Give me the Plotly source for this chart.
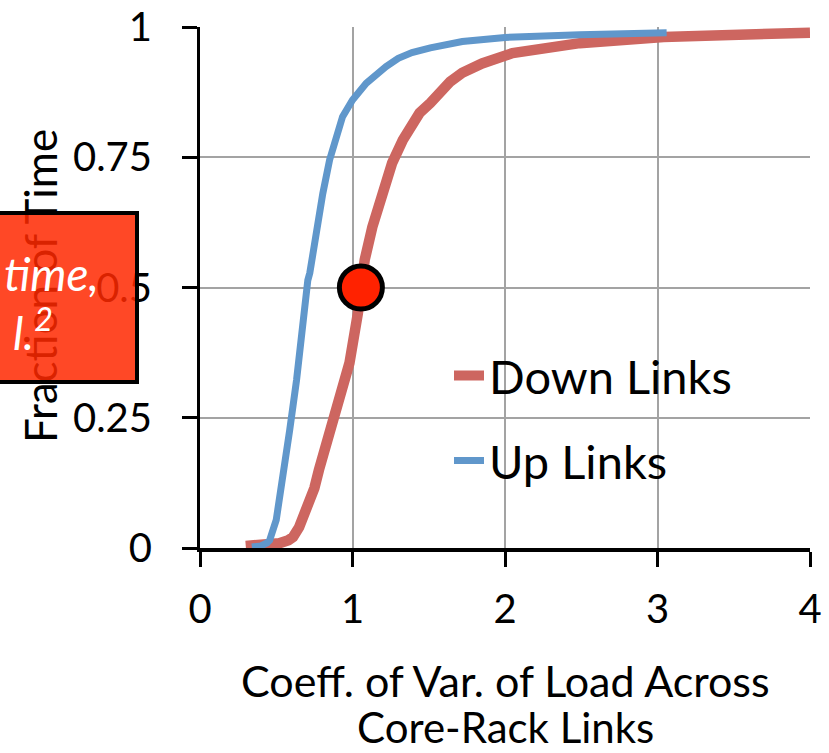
import plotly.graph_objects as go

# CDF of the coefficient of variation of load across core-rack links
down_x = [0.30, 0.45, 0.52, 0.58, 0.61, 0.65, 0.70, 0.75, 0.78, 0.82, 0.85, 0.915,
          0.98, 1.035, 1.055, 1.08, 1.13, 1.20, 1.26, 1.33, 1.44, 1.51, 1.57, 1.64,
          1.72, 1.85, 2.05, 2.25, 2.49, 3.04, 3.5, 4.0]
down_y = [0.004, 0.007, 0.009, 0.015, 0.021, 0.04, 0.073, 0.115, 0.15, 0.19, 0.226, 0.29,
          0.355, 0.45, 0.50, 0.553, 0.616, 0.681, 0.739, 0.783, 0.835, 0.854, 0.876, 0.895,
          0.912, 0.93, 0.95, 0.96, 0.969, 0.981, 0.985, 0.989]

up_x = [0.34, 0.40, 0.44, 0.457, 0.50, 0.544, 0.588, 0.633, 0.675, 0.707, 0.72, 0.763,
        0.805, 0.85, 0.893, 0.935, 1.0, 1.09, 1.22, 1.30, 1.39, 1.51, 1.72, 2.0, 2.49, 3.06]
up_y = [0.002, 0.004, 0.010, 0.015, 0.054, 0.13, 0.226, 0.322, 0.45, 0.514, 0.528, 0.617,
        0.68, 0.745, 0.789, 0.828, 0.86, 0.892, 0.924, 0.940, 0.951, 0.960, 0.972, 0.980, 0.985, 0.989]

# highlighted median point on the down-link curve
point_x = [1.055]
point_y = [0.5]

x_ticks = [0, 1, 2, 3, 4]
y_ticks = [0, 0.25, 0.5, 0.75, 1]
y_tick_text = ["0", "0.25", "0.5", "0.75", "1"]

FONT = "Lato"
W, H = 829, 753
ML, MR, MT, MB = 200, 19, 27, 205
PW = W - ML - MR
PH = H - MT - MB


def px_x(px):
    return (px - ML) / PW


def px_y(py):
    return (H - MB - py) / PH


fig = go.Figure()
fig.add_trace(go.Scatter(
    x=down_x, y=down_y, mode="lines", name="Down Links",
    line=dict(color="#CD6660", width=10.5),
    legend="legend",
))
fig.add_trace(go.Scatter(
    x=up_x, y=up_y, mode="lines", name="Up Links",
    line=dict(color="#6097CB", width=7),
    legend="legend2",
))
fig.add_trace(go.Scatter(
    x=point_x, y=point_y, mode="markers", showlegend=False,
    marker=dict(size=43, color="#FF2200", line=dict(color="black", width=5)),
    cliponaxis=False,
))

legend_style = dict(
    font=dict(family=FONT, size=47, color="black"),
    bgcolor="rgba(0,0,0,0)", borderwidth=0,
    xanchor="left", yanchor="middle",
)

fig.update_layout(
    width=W, height=H,
    margin=dict(l=ML, r=MR, t=MT, b=MB, autoexpand=False),
    paper_bgcolor="white", plot_bgcolor="white",
    font=dict(family=FONT, size=40, color="black"),
    legend=dict(x=px_x(449), y=px_y(376), **legend_style),
    legend2=dict(x=px_x(449), y=px_y(461), **legend_style),
    xaxis=dict(
        range=[0, 4], tickvals=x_ticks, automargin=False,
        showgrid=True, gridcolor="#A3A3A3", gridwidth=1.5,
        showline=True, linecolor="black", linewidth=4,
        ticks="outside", ticklen=15, tickwidth=3, tickcolor="black",
        ticklabelstandoff=8, zeroline=False,
        tickfont=dict(family=FONT, size=40),
    ),
    yaxis=dict(
        range=[0, 1], tickvals=y_ticks, ticktext=y_tick_text, automargin=False,
        showgrid=True, gridcolor="#A3A3A3", gridwidth=1.5,
        showline=True, linecolor="black", linewidth=3,
        ticks="outside", ticklen=15, tickwidth=3, tickcolor="black",
        ticklabelstandoff=22, zeroline=False,
        tickfont=dict(family=FONT, size=40),
    ),
    annotations=[
        # axis titles as annotations so the callout box can sit above them
        dict(text="Coeff. of Var. of Load Across", xref="paper", yref="paper",
             x=0.5, y=px_y(680), xanchor="center", yanchor="middle",
             showarrow=False, font=dict(family=FONT, size=43, color="black")),
        dict(text="Core-Rack Links", xref="paper", yref="paper",
             x=0.5, y=px_y(727), xanchor="center", yanchor="middle",
             showarrow=False, font=dict(family=FONT, size=42, color="black")),
        dict(text="Fraction of Time", xref="paper", yref="paper",
             x=px_x(40), y=px_y(286), xanchor="center", yanchor="middle",
             textangle=-90, showarrow=False,
             font=dict(family=FONT, size=44, color="black")),
        # translucent callout box
        dict(text=" ", xref="paper", yref="paper",
             x=px_x(139), y=px_y(297.5), xanchor="right", yanchor="middle",
             width=150, height=161, showarrow=False,
             bgcolor="rgba(255,40,0,0.85)", bordercolor="black", borderwidth=4,
             borderpad=2),
        dict(text="time,", xref="paper", yref="paper",
             x=px_x(2), y=px_y(273), xanchor="left", yanchor="middle",
             showarrow=False,
             font=dict(family=FONT, size=46, color="white", style="italic")),
        dict(text="l.<sup>2</sup>", xref="paper", yref="paper",
             x=px_x(11), y=px_y(330), xanchor="left", yanchor="middle",
             showarrow=False,
             font=dict(family=FONT, size=46, color="white", style="italic")),
    ],
)

fig.write_html("out.html")
